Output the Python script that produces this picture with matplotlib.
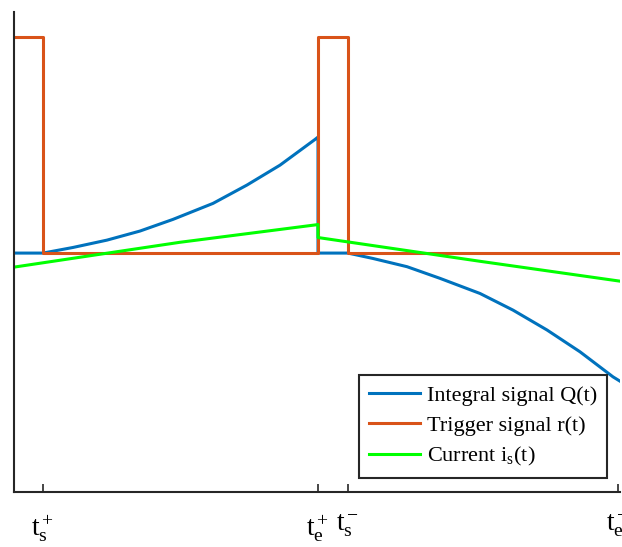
import matplotlib
matplotlib.use("Agg")
import matplotlib.pyplot as plt

plt.rcParams['font.family'] = ['Liberation Serif', 'DejaVu Serif']
plt.rcParams['mathtext.fontset'] = 'custom'
plt.rcParams['mathtext.rm'] = 'Liberation Serif'
plt.rcParams['mathtext.it'] = 'Liberation Serif'

# Event times
t_s_plus = 0.29
t_e_plus = 3.04
t_s_minus = 3.34
t_e_minus = 6.04
x_max = 6.06

# Integral signal Q(t)
q_t = [0.0, 0.29, 0.59, 0.93, 1.26, 1.59, 1.99, 2.33, 2.66, 3.01, 3.04, 3.04,
       3.34, 3.59, 3.93, 4.26, 4.66, 4.99, 5.33, 5.66, 5.99, 6.06]
q_v = [0.0, 0.0, 0.026, 0.060, 0.102, 0.156, 0.230, 0.315, 0.407, 0.526, 0.537, 0.0,
       0.0, -0.025, -0.063, -0.117, -0.187, -0.264, -0.356, -0.457, -0.573, -0.593]

# Trigger signal r(t)
r_t = [0.0, 0.29, 0.29, 3.04, 3.04, 3.34, 3.34, 6.06]
r_v = [1.0, 1.0, 0.0, 0.0, 1.0, 1.0, 0.0, 0.0]

# Current i_s(t)
i_t = [0.0, 1.66, 3.04, 3.04, 4.66, 6.06]
i_v = [-0.065, 0.050, 0.132, 0.072, -0.038, -0.130]

tick_pos = [t_s_plus, t_e_plus, t_s_minus, t_e_minus]
tick_lab = [r'$\mathrm{t}_\mathrm{s}^+$', r'$\mathrm{t}_\mathrm{e}^+$',
            r'$\mathrm{t}_\mathrm{s}^-$', r'$\mathrm{t}_\mathrm{e}^-$']

fig = plt.figure(figsize=(6.22, 5.47), dpi=100)
ax = fig.add_axes([14/622, 1-492/547, 606/622, 480/547])

ax.plot(q_t, q_v, color='#0072BD', lw=2.2, label='Integral signal Q(t)')
ax.plot(r_t, r_v, color='#D95319', lw=2.2, label='Trigger signal r(t)')
ax.plot(i_t, i_v, color='#00FF00', lw=2.2, label=r'Current $\mathrm{i_s}$(t)')

ax.set_xlim(0, x_max)
ax.set_ylim(-1.106, 1.116)
ax.set_xticks(tick_pos)
ax.set_xticklabels(tick_lab, fontsize=20)
ax.set_yticks([])
ax.tick_params(axis='x', direction='in', length=6, width=1.2, color='#262626', pad=15)
for s in ['top', 'right']:
    ax.spines[s].set_visible(False)
for s in ['left', 'bottom']:
    ax.spines[s].set_color('#262626')
    ax.spines[s].set_linewidth(1.5)

leg = ax.legend(loc='lower right', bbox_to_anchor=(593/606, 14/480), fontsize=16,
                frameon=True, fancybox=False, edgecolor='#262626', framealpha=1,
                handlelength=2.3, handletextpad=0.3, borderpad=0.45, labelspacing=0.42,
                borderaxespad=0)
leg.get_frame().set_linewidth(1.5)

fig.savefig('out.png', dpi=100)
